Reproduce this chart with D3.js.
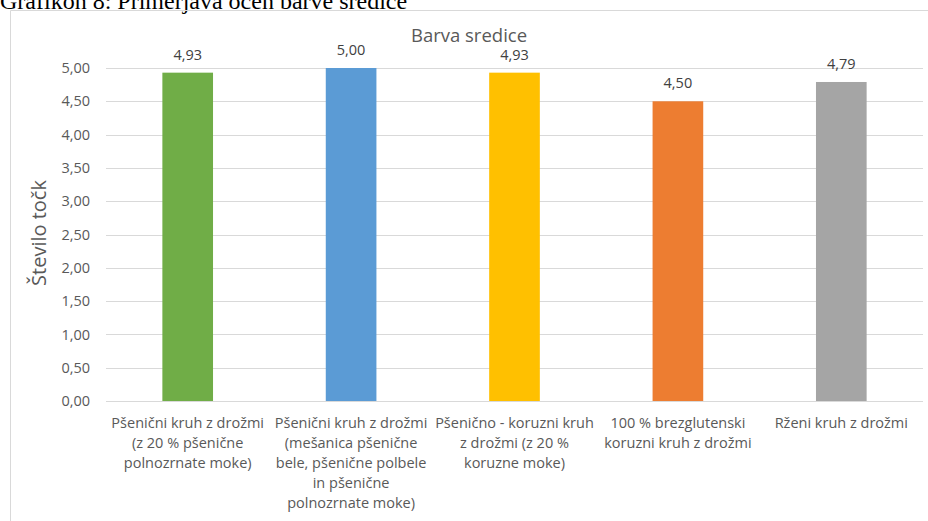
<!DOCTYPE html>
<html><head><meta charset="utf-8">
<script src="https://cdn.jsdelivr.net/npm/d3@7"></script>
<style>body{margin:0;background:#fff}svg{display:block}</style>
</head><body>
<script>
const categories = [
  ["Pšenični kruh z drožmi","(z 20 % pšenične","polnozrnate moke)"],
  ["Pšenični kruh z drožmi","(mešanica pšenične","bele, pšenične polbele","in pšenične","polnozrnate moke)"],
  ["Pšenično - koruzni kruh","z drožmi (z 20 %","koruzne moke)"],
  ["100 % brezglutenski","koruzni kruh z drožmi"],
  ["Rženi kruh z drožmi"]
];
const values = [4.93, 5.00, 4.93, 4.50, 4.79];
const colors = ["#70AD47","#5B9BD5","#FFC000","#ED7D31","#A5A5A5"];
const yTicks = [0,0.5,1,1.5,2,2.5,3,3.5,4,4.5,5];
const chartTitle = "Barva sredice";
const yTitle = "Število točk";
const caption = "Grafikon 8: Primerjava ocen barve sredice";

const W = 928, H = 521;
const svg = d3.select("body").append("svg").attr("width", W).attr("height", H);
const font = "Open Sans, sans-serif";
const fmt = v => d3.format(".2f")(v).replace(".", ",");

svg.append("text").attr("x", 0).attr("y", 9).attr("font-family", "Liberation Serif, Times New Roman, serif")
  .attr("font-size", 24).attr("fill", "#000").text(caption);

// frame
svg.append("path").attr("d", `M10.5,${H}V10.5H${W}`).attr("fill","none").attr("stroke","#d9d9d9");

const m = {l:106, r:923, t:68, b:401};
const x = d3.scaleBand().domain(d3.range(values.length)).range([m.l, m.r]).paddingInner(0.69).paddingOuter(0.345);
const y = d3.scaleLinear().domain([0,5]).range([m.b, m.t]);

const grid = svg.append("g");
grid.selectAll("line").data(yTicks).join("line")
  .attr("x1", m.l).attr("x2", m.r).attr("y1", d => Math.round(y(d))+0.5).attr("y2", d => Math.round(y(d))+0.5)
  .attr("stroke", "#d9d9d9").attr("stroke-width", 1);

const yAxis = d3.axisLeft(y).tickValues(yTicks).tickFormat(fmt).tickSize(0).tickPadding(0);
const ya = svg.append("g").attr("transform", `translate(${m.l-16},0)`).call(yAxis);
ya.select(".domain").remove();
ya.selectAll("text").attr("font-family", font).attr("font-size", 14.5).attr("fill", "#595959");

svg.append("g").selectAll("rect").data(values).join("rect")
  .attr("x", (d,i) => x(i)).attr("width", x.bandwidth())
  .attr("y", d => y(d)).attr("height", d => y(0)-y(d))
  .attr("fill", (d,i) => colors[i]);

svg.append("g").selectAll("text").data(values).join("text")
  .attr("x", (d,i) => x(i)+x.bandwidth()/2).attr("y", d => y(d)-13)
  .attr("text-anchor","middle").attr("font-family", font).attr("font-size", 14.5).attr("fill", "#404040")
  .text(fmt);

const xl = svg.append("g");
categories.forEach((lines, i) => {
  const t = xl.append("text").attr("text-anchor","middle").attr("font-family", font).attr("font-size", 14.5).attr("fill","#595959");
  lines.forEach((s, j) => t.append("tspan").attr("x", x(i)+x.bandwidth()/2).attr("y", 428 + j*20).text(s));
});

svg.append("text").attr("x", 469).attr("y", 42).attr("text-anchor","middle")
  .attr("font-family", font).attr("font-size", 18.5).attr("fill","#595959").text(chartTitle);

svg.append("text").attr("transform", "translate(46,233) rotate(-90)").attr("text-anchor","middle")
  .attr("font-family", font).attr("font-size", 20).attr("fill","#595959").text(yTitle);
</script>
</body></html>
